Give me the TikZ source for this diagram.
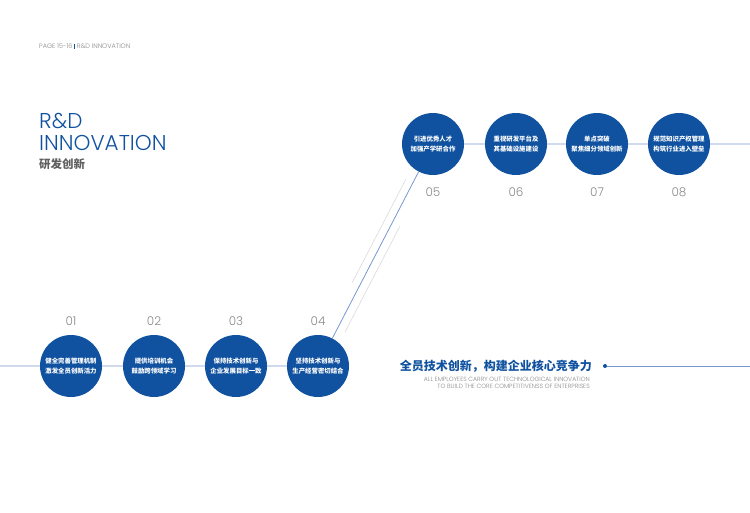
\documentclass[tikz,border=0pt]{standalone}
\usepackage{fontspec}
\setmainfont{Poppins}[UprightFont=* Light,BoldFont=* Medium]
\newfontfamily\cjk{Noto Sans CJK SC}
\usetikzlibrary{positioning}
\definecolor{rdblue}{RGB}{16,82,160}
\definecolor{rdline}{RGB}{120,150,210}
\definecolor{rdgray}{RGB}{135,135,135}
\definecolor{rdpale}{RGB}{218,218,218}

\begin{document}
\begin{tikzpicture}[x=1pt,y=-1pt,
  stage/.style={circle,fill=rdblue,minimum size=62pt,inner sep=0pt,text=white,align=center,
    font=\cjk\bfseries\fontsize{6.4}{10}\selectfont},
  num/.style={text=rdgray,font=\fontsize{12}{12}\selectfont},
  title/.style={anchor=base west,inner sep=0pt,text=rdblue,font=\fontsize{21.5}{22}\selectfont},
  link/.style={rdline,line width=0.8pt}]
\useasboundingbox (0,0) rectangle (750,512);
% header and title
\node[anchor=base west,inner sep=0pt,text=rdgray,font=\fontsize{6.5}{7}\selectfont] (hdr) at (39,48.5)
  {PAGE 15-16 {\color{rdblue}\rule[-0.1ex]{0.9pt}{1.4ex}} R\&D INNOVATION};
\node[title] (ttl) at (39,128.5) {R\&D};
\node[title] (ttl2) at (39,150.5) {INNOVATION};
\node[anchor=base west,inner sep=0pt,text=rdgray!70!black,font=\cjk\bfseries\fontsize{11.5}{12}\selectfont]
  (ttlcn) at (39,168) {研发创新};
% stages
\foreach \i/\x/\y/\ny/\txt in {
  1/71/366/321/{健全完善管理机制\\激发全员创新活力},
  2/154/366/321/{提供培训机会\\鼓励跨领域学习},
  3/236/366/321/{保持技术创新与\\企业发展目标一致},
  4/318/366/321/{坚持技术创新与\\生产经营密切结合},
  5/433/144/192/{引进优秀人才\\加强产学研合作},
  6/516/144/192/{重视研发平台及\\其基础设施建设},
  7/597/144/192/{单点突破\\聚焦细分领域创新},
  8/679/144/192/{规范知识产权管理\\构筑行业进入壁垒}}{
  \node[stage] (s\i) at (\x,\y) {\txt};
  \node[num] (n\i) at (\x,\ny) {0\i};
}
% connectors
\coordinate (lstart) at (0,366);
\coordinate (lend) at (750,144);
\draw[link] (lstart) -- (s1) -- (s2) -- (s3) -- (s4) -- (s5) -- (s6) -- (s7) -- (s8) -- (lend);
\draw[rdpale,line width=0.6pt] (352,283) -- (406,179);
\draw[rdpale,line width=0.6pt] (345,332) -- (400,226);
% slogan
\node[anchor=east,inner sep=0pt,text=rdblue,font=\cjk\bfseries\fontsize{12}{13}\selectfont] (slogan) at (592,366)
  {全员技术创新，构建企业核心竞争力};
\node[anchor=north east,inner sep=0pt,text=rdgray,align=right,font=\fontsize{6.1}{7.8}\selectfont] (sloganen) at (590,376.5)
  {ALL EMPLOYEES CARRY OUT TECHNOLOGICAL INNOVATION\\TO BUILD THE CORE COMPETITIVENSS OF ENTERPRISES};
\node[circle,fill=rdblue,inner sep=0pt,minimum size=4pt] (dot) at (605,366) {};
\coordinate (dotend) at (750,366);
\draw[link] (dot) -- (dotend);
\end{tikzpicture}
\end{document}
